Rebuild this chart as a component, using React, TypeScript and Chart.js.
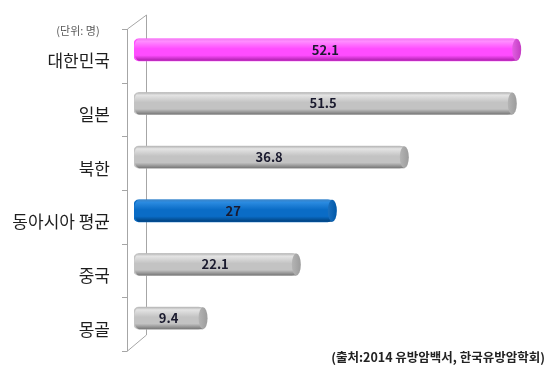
import React, { useEffect, useRef } from "react";
import { Chart, registerables } from "chart.js";

Chart.register(...registerables);

const categories = ["대한민국", "일본", "북한", "동아시아 평균", "중국", "몽골"];
const values = [52.1, 51.5, 36.8, 27, 22.1, 9.4];
const barKinds = ["pink", "gray", "gray", "blue", "gray", "gray"];
const unitLabel = "(단위: 명)";
const sourceLabel = "(출처:2014 유방암백서, 한국유방암학회)";
const xMax = 55;

type Pal = { top: string; hi: string; mid: string; bottom: string; cap: string; capHi: string; base: string };
const palettes: Record<string, Pal> = {
  pink: { top: "#f27ef2", hi: "#ff8cff", mid: "#ff4dff", bottom: "#a81ea8", cap: "#c43cc4", capHi: "#e060e0", base: "#ff4dff" },
  gray: { top: "#b4b4b4", hi: "#e4e4e4", mid: "#c3c3c3", bottom: "#767676", cap: "#9c9c9c", capHi: "#b4b4b4", base: "#c3c3c3" },
  blue: { top: "#3a86cc", hi: "#2a8ae0", mid: "#0a6cc6", bottom: "#003f7a", cap: "#0058a8", capHi: "#1a70c0", base: "#0a6cc6" },
};

const FONT = "'Noto Sans CJK KR', 'Noto Sans', sans-serif";

const cylinderPlugin = {
  id: "cylinder",
  beforeDatasetsDraw(chart: any) {
    const ctx = chart.ctx as CanvasRenderingContext2D;
    const area = chart.chartArea;
    const yScale = chart.scales.y;
    const n = categories.length;
    const step = (area.bottom - area.top) / n;
    const fx = area.left - 7;
    const bx = area.left + 12;
    const fTop = area.top + 6;
    const fBot = area.bottom + 6;
    const bTop = area.top - 8;
    const bBot = area.bottom - 10;
    ctx.save();
    ctx.strokeStyle = "#a6a6a6";
    ctx.lineWidth = 1;
    ctx.beginPath();
    ctx.moveTo(fx + 0.5, fTop);
    ctx.lineTo(fx + 0.5, fBot);
    ctx.moveTo(bx + 0.5, bTop);
    ctx.lineTo(bx + 0.5, bBot);
    ctx.moveTo(fx + 0.5, fTop);
    ctx.lineTo(bx + 0.5, bTop);
    ctx.moveTo(fx + 0.5, fBot);
    ctx.lineTo(bx + 0.5, bBot);
    for (let i = 0; i <= n; i++) {
      const yy = Math.round(yScale.getPixelForValue(0) - step / 2 + i * step + 6) + 0.5;
      ctx.moveTo(fx - 5, yy);
      ctx.lineTo(fx + 0.5, yy);
    }
    ctx.stroke();
    ctx.restore();
  },
  afterDatasetsDraw(chart: any) {
    const ctx = chart.ctx as CanvasRenderingContext2D;
    const meta = chart.getDatasetMeta(0);
    meta.data.forEach((el: any, i: number) => {
      const { x, y, base, height } = el.getProps(["x", "y", "base", "height"], true);
      const top = y - height / 2;
      const bottom = y + height / 2;
      const r = 5;
      const p = palettes[barKinds[i]];
      ctx.save();
      const g = ctx.createLinearGradient(0, top, 0, bottom);
      g.addColorStop(0, p.top);
      g.addColorStop(0.12, p.hi);
      g.addColorStop(0.45, p.mid);
      g.addColorStop(0.75, p.mid);
      g.addColorStop(1, p.bottom);
      ctx.fillStyle = g;
      ctx.beginPath();
      ctx.moveTo(base + r, top);
      ctx.lineTo(x, top);
      ctx.lineTo(x, bottom);
      ctx.lineTo(base + r, bottom);
      ctx.ellipse(base + r, y, r, height / 2, 0, Math.PI / 2, (Math.PI * 3) / 2);
      ctx.closePath();
      ctx.fill();
      const cg = ctx.createLinearGradient(x - 4.5, 0, x + 4.5, 0);
      cg.addColorStop(0, p.capHi);
      cg.addColorStop(1, p.cap);
      ctx.fillStyle = cg;
      ctx.beginPath();
      ctx.ellipse(x, y, 4.5, height / 2, 0, 0, Math.PI * 2);
      ctx.fill();
      ctx.fillStyle = "#1a1a2e";
      ctx.font = `bold 13px ${FONT}`;
      ctx.textAlign = "center";
      ctx.textBaseline = "middle";
      ctx.fillText(String(values[i]), (base + x) / 2, y);
      ctx.restore();
    });
  },
  afterDraw(chart: any) {
    const ctx = chart.ctx as CanvasRenderingContext2D;
    ctx.save();
    ctx.fillStyle = "#595959";
    ctx.font = `11px ${FONT}`;
    ctx.textAlign = "center";
    ctx.textBaseline = "middle";
    ctx.fillText(unitLabel, 78, 31);
    ctx.fillStyle = "#222222";
    ctx.font = `bold 12.5px ${FONT}`;
    ctx.textAlign = "right";
    ctx.fillText(sourceLabel, 545, 357);
    ctx.restore();
  },
};

export default function App() {
  const ref = useRef<HTMLCanvasElement | null>(null);
  useEffect(() => {
    if (!ref.current) return;
    const chart = new Chart(ref.current, {
      type: "bar",
      data: {
        labels: categories,
        datasets: [
          {
            data: values,
            backgroundColor: barKinds.map((k) => palettes[k].base),
            borderWidth: 0,
            borderSkipped: false,
            borderRadius: 5,
            barThickness: 22,
          },
        ],
      },
      options: {
        indexAxis: "y",
        responsive: false,
        animation: false,
        events: [],
        layout: { padding: { left: 0, right: 12, top: 23, bottom: 26 } },
        plugins: { legend: { display: false }, tooltip: { enabled: false } },
        scales: {
          x: { display: false, min: 0, max: xMax },
          y: {
            grid: { display: false, drawTicks: false },
            border: { display: false },
            ticks: {
              color: "#1e1e1e",
              font: { family: FONT, size: 17 },
              padding: 24,
              labelOffset: 11,
            },
            afterFit(scale: any) {
              scale.width = 134;
              scale.paddingTop = 0;
              scale.paddingBottom = 0;
            },
          },
        },
      },
      plugins: [cylinderPlugin],
    });
    return () => chart.destroy();
  }, []);
  return (
    <div style={{ position: "absolute", left: 0, top: 0, width: 550, height: 371, background: "#fff" }}>
      <canvas ref={ref} width={550} height={371} />
    </div>
  );
}
